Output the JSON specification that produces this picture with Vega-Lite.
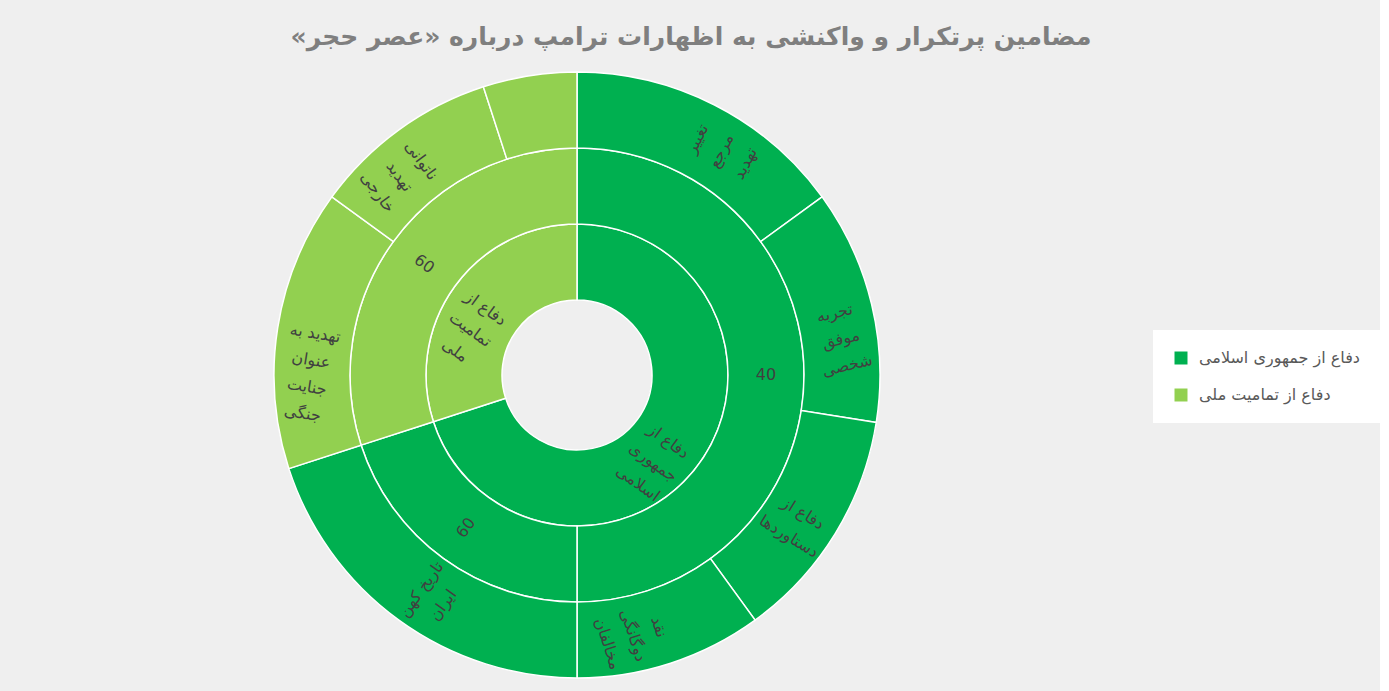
{
  "$schema": "https://vega.github.io/schema/vega-lite/v6.json",
  "background": "#efefef",
  "padding": {"top": 25, "left": 0, "right": 0, "bottom": 0},
  "width": 1154,
  "height": 632,
  "title": {
    "text": "مضامین پرتکرار و واکنشی به اظهارات ترامپ درباره «عصر حجر»‏",
    "anchor": "middle",
    "frame": "group",
    "dx": 114,
    "fontSize": 25,
    "fontWeight": "bold",
    "font": "DejaVu Sans",
    "color": "#7f7f7f",
    "offset": 9
  },
  "data": {
    "values": [
      {"ring": 1, "group": "دفاع از جمهوری اسلامی", "label": "دفاع از\nجمهوری\nاسلامی", "value": 70},
      {"ring": 1, "group": "دفاع از تمامیت ملی", "label": "دفاع از\nتمامیت\nملی", "value": 30},
      {"ring": 2, "group": "دفاع از جمهوری اسلامی", "label": "40", "value": 50},
      {"ring": 2, "group": "دفاع از جمهوری اسلامی", "label": "60", "value": 20},
      {"ring": 2, "group": "دفاع از تمامیت ملی", "label": "60", "value": 30},
      {"ring": 3, "group": "دفاع از جمهوری اسلامی", "label": "تغییر\nمرجع\nتهدید", "value": 15},
      {"ring": 3, "group": "دفاع از جمهوری اسلامی", "label": "تجربه\nموفق\nشخصی", "value": 12.5},
      {"ring": 3, "group": "دفاع از جمهوری اسلامی", "label": "دفاع از\nدستاوردها", "value": 12.5},
      {"ring": 3, "group": "دفاع از جمهوری اسلامی", "label": "نقد\nدوگانگی\nمخالفان", "value": 10},
      {"ring": 3, "group": "دفاع از جمهوری اسلامی", "label": "تاریخ کهن\nایران", "value": 20},
      {"ring": 3, "group": "دفاع از تمامیت ملی", "label": "تهدید به\nعنوان\nجنایت\nجنگی", "value": 15},
      {"ring": 3, "group": "دفاع از تمامیت ملی", "label": "ناتوانی\nتهدید\nخارجی", "value": 10},
      {"ring": 3, "group": "دفاع از تمامیت ملی", "label": "", "value": 5}
    ]
  },
  "transform": [
    {
      "window": [
        {"op": "row_number", "as": "i"},
        {"op": "sum", "field": "value", "as": "cum"}
      ],
      "groupby": ["ring"],
      "frame": [null, 0]
    },
    {"joinaggregate": [{"op": "sum", "field": "value", "as": "total"}], "groupby": ["ring"]},
    {"calculate": "360 * (datum.cum - datum.value / 2) / datum.total", "as": "mid"},
    {"calculate": "datum.mid < 180 ? datum.mid - 90 : datum.mid - 270", "as": "rot"}
  ],
  "encoding": {
    "theta": {"field": "value", "type": "quantitative", "stack": true},
    "order": {"field": "i", "type": "quantitative"}
  },
  "layer": [
    {
      "transform": [{"filter": "datum.ring == 1"}],
      "mark": {"type": "arc", "radius": 151, "radius2": 75, "stroke": "white", "strokeWidth": 1.5},
      "encoding": {
        "color": {
          "field": "group",
          "type": "nominal",
          "scale": {
            "domain": ["دفاع از جمهوری اسلامی", "دفاع از تمامیت ملی"],
            "range": ["#00b050", "#92d050"]
          },
          "legend": {
            "title": null,
            "orient": "none",
            "legendX": 1153,
            "legendY": 271,
            "fillColor": "white",
            "padding": 20,
            "symbolType": "square",
            "symbolSize": 169,
            "symbolStrokeWidth": 0,
            "symbolOpacity": 1,
            "labelFontSize": 16,
            "labelFont": "DejaVu Sans",
            "labelColor": "#595959",
            "labelOffset": 10,
            "rowPadding": 21,
            "labelLimit": 300
          }
        }
      }
    },
    {
      "transform": [{"filter": "datum.ring == 2"}],
      "mark": {"type": "arc", "radius": 227, "radius2": 151, "stroke": "white", "strokeWidth": 1.5},
      "encoding": {"color": {"field": "group", "type": "nominal"}}
    },
    {
      "transform": [{"filter": "datum.ring == 3"}],
      "mark": {"type": "arc", "radius": 303, "radius2": 227, "stroke": "white", "strokeWidth": 1.5},
      "encoding": {"color": {"field": "group", "type": "nominal"}}
    },
    {
      "transform": [{"filter": "datum.ring == 1"}],
      "mark": {"type": "text", "radius": 113, "fontSize": 16, "font": "DejaVu Sans", "color": "#404040", "lineBreak": "\n", "lineHeight": 26},
      "encoding": {
        "text": {"field": "label"},
        "angle": {"field": "rot", "type": "quantitative", "scale": null}
      }
    },
    {
      "transform": [{"filter": "datum.ring == 2"}],
      "mark": {"type": "text", "radius": 189, "fontSize": 16, "font": "DejaVu Sans", "color": "#404040", "lineBreak": "\n", "lineHeight": 26},
      "encoding": {
        "text": {"field": "label"},
        "angle": {"field": "rot", "type": "quantitative", "scale": null}
      }
    },
    {
      "transform": [{"filter": "datum.ring == 3"}],
      "mark": {"type": "text", "radius": 265, "fontSize": 16, "font": "DejaVu Sans", "color": "#404040", "lineBreak": "\n", "lineHeight": 27},
      "encoding": {
        "text": {"field": "label"},
        "angle": {"field": "rot", "type": "quantitative", "scale": null}
      }
    }
  ],
  "config": {"view": {"stroke": null}}
}
